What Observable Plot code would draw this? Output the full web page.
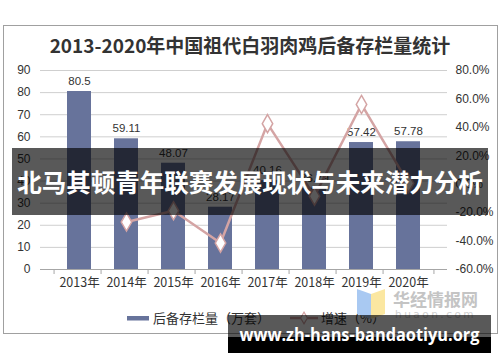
<!DOCTYPE html>
<html>
<head>
<meta charset="utf-8">
<script src="https://cdn.jsdelivr.net/npm/d3@7"></script>
<script src="https://cdn.jsdelivr.net/npm/@observablehq/plot@0.6"></script>
<style>
  html, body { margin: 0; padding: 0; background: #fff; }
  body { width: 500px; height: 362px; position: relative; overflow: hidden;
         font-family: "Liberation Sans", "Noto Sans CJK SC", sans-serif; }
  .abs { position: absolute; }
  #frame { left: 3px; top: 25px; width: 493px; height: 307px; border: 1px solid #a0a0a0; box-sizing: content-box; }
  #title { left: 0; width: 500px; top: 33px; text-align: center; font-family: "Noto Sans CJK SC", sans-serif;
           font-weight: 700; font-size: 19px; color: #333; line-height: 24px; }
  #chart { left: 0; top: 0; }
  #legend { top: 308px; left: 0; width: 500px; height: 20px; font-family: "Noto Sans CJK SC", sans-serif; font-size: 13px; color: #333; }
  #band { left: 12px; top: 148px; width: 476px; height: 67px; background: rgba(0,0,0,0.65);
          color: #fff; font-family: "Noto Sans CJK SC", sans-serif; font-weight: 700; font-size: 24.5px;
          line-height: 67px; text-align: center; white-space: nowrap; }
  #wm { left: 355px; top: 285px; width: 140px; height: 36px; }
  #url1 { left: 228px; top: 315px; width: 263px; height: 22px; background: rgba(0,0,0,0.65); }
  #url2 { left: 228px; top: 337px; width: 263px; height: 16px; background: #000; }
  #urltext { left: 228px; top: 315px; width: 263px; height: 38px; }
</style>
</head>
<body>
<div id="frame" class="abs"></div>
<div id="title" class="abs">2013-2020年中国祖代白羽肉鸡后备存栏量统计</div>
<div id="chart" class="abs"></div>
<svg id="legend" class="abs" width="500" height="20"></svg>
<svg id="wm" class="abs" width="140" height="36"></svg>
<div id="band" class="abs">北马其顿青年联赛发展现状与未来潜力分析</div>
<div id="url1" class="abs"></div>
<div id="url2" class="abs"></div>
<svg id="urltext" class="abs" width="263" height="38">
  <text x="131.5" y="26" text-anchor="middle" fill="#fff" font-family="Open Sans, DejaVu Sans, sans-serif"
        font-weight="700" font-size="17" textLength="240" lengthAdjust="spacingAndGlyphs">www.zh-hans-bandaotiyu.org</text>
</svg>
<script>
// ---- data ----
const years = ["2013年","2014年","2015年","2016年","2017年","2018年","2019年","2020年"];
const stock = [80.5, 59.11, 48.07, 28.17, 40.16, 36.79, 57.42, 57.78];
const growthYears = ["2014年","2015年","2016年","2017年","2018年","2019年","2020年"];
const growth = [-26.6, -18.7, -41.4, 42.6, -8.4, 56.1, 0.6];
const leftTicks = [0,10,20,30,40,50,60,70,80,90];
const rightTicks = [-60,-40,-20,0,20,40,60,80];
const seriesNames = ["后备存栏量（万套）", "增速（%）"];

const barColor = "#67739b";
const lineColor = "#d4a4a4";

// map percent (-60..80) onto left scale (0..90)
const pctToY = p => (p + 60) / 140 * 90;

const W = 500, H = 362, ML = 40, MR = 53, MT = 70, MB = 93;
const bars = years.map((y, i) => ({year: y, value: stock[i]}));
const line = growthYears.map((y, i) => ({year: y, pct: growth[i], yv: pctToY(growth[i])}));
const halfBand = (W - ML - MR) / years.length / 2;

const chart = Plot.plot({
  width: W, height: H,
  marginLeft: ML, marginRight: MR, marginTop: MT, marginBottom: MB,
  style: {fontFamily: "Liberation Sans, Arial, sans-serif", fontSize: "12px", color: "#333", background: "transparent"},
  x: {domain: years, padding: 0.5, label: null},
  y: {domain: [0, 90], label: null},
  marks: [
    Plot.gridY(leftTicks.filter(d => d > 0), {stroke: "#cfcfcf", strokeOpacity: 1}),
    Plot.axisY({ticks: leftTicks, tickSize: 0, tickPadding: 10, label: null, fontSize: 12}),
    Plot.axisY({anchor: "right", ticks: rightTicks.map(pctToY), tickSize: 0, tickPadding: 8,
                tickFormat: v => (Math.round(v / 90 * 140 - 60)).toFixed(1) + "%", label: null, fontSize: 12}),
    Plot.barY(bars, {x: "year", y: "value", fill: barColor}),
    Plot.text(bars, {x: "year", y: "value", text: d => String(d.value), dy: -10, fontSize: 11.5, fill: "#333"}),
    Plot.ruleY([0], {stroke: "#a6a6a6", strokeWidth: 1.2}),
    Plot.tickX(years, {x: d => d, dx: -halfBand, stroke: "#a6a6a6"}),
    Plot.tickX([years[years.length - 1]], {x: d => d, dx: halfBand, stroke: "#a6a6a6"}),
    Plot.axisX({tickSize: 0, tickPadding: 9, fontSize: 12.5, fontFamily: "Noto Sans CJK SC, sans-serif", label: null}),
    Plot.line(line, {x: "year", y: "yv", stroke: lineColor, strokeWidth: 2.5}),
    Plot.dot(line, {x: "year", y: "yv", symbol: "diamond", r: 5.5, fill: "#fff", stroke: lineColor, strokeWidth: 1.5})
  ]
});
document.getElementById("chart").appendChild(chart);

// shorten the band-edge tick marks to small ticks under the x axis line
chart.querySelectorAll("g[aria-label='tick'] line").forEach(l => {
  l.setAttribute("y1", H - MB);
  l.setAttribute("y2", H - MB + 5);
});

// legend
const lg = d3.select("#legend");
lg.append("rect").attr("x", 127).attr("y", 8).attr("width", 22).attr("height", 4.5).attr("fill", barColor);
lg.append("text").attr("x", 153).attr("y", 15).text(seriesNames[0]).attr("fill", "#333");
lg.append("line").attr("x1", 290).attr("x2", 318).attr("y1", 10).attr("y2", 10).attr("stroke", lineColor).attr("stroke-width", 2.5);
lg.append("path").attr("d", d3.symbol(d3.symbolDiamond, 40)()).attr("transform", "translate(304,10)")
  .attr("fill", "#fff").attr("stroke", lineColor).attr("stroke-width", 1.2);
lg.append("text").attr("x", 321).attr("y", 15).text(seriesNames[1]).attr("fill", "#333");

// watermark
const wm = d3.select("#wm");
wm.append("path").attr("d", "M2,4 L16,9 L16,34 L2,29 Z").attr("fill", "#a9c9f2");
wm.append("path").attr("d", "M16,9 L30,4 L30,29 L16,34 Z").attr("fill", "#fbe7a1");
wm.append("text").attr("x", 38).attr("y", 21).text("华经情报网").attr("fill", "#c4c4c4")
  .attr("font-family", "Noto Sans CJK SC, sans-serif").attr("font-weight", 700).attr("font-size", 17);
wm.append("text").attr("x", 40).attr("y", 33).text("huaon.com").attr("fill", "#d0d0d0")
  .attr("font-family", "DejaVu Sans, sans-serif").attr("font-size", 10.5).attr("letter-spacing", 2.5);
</script>
</body>
</html>
